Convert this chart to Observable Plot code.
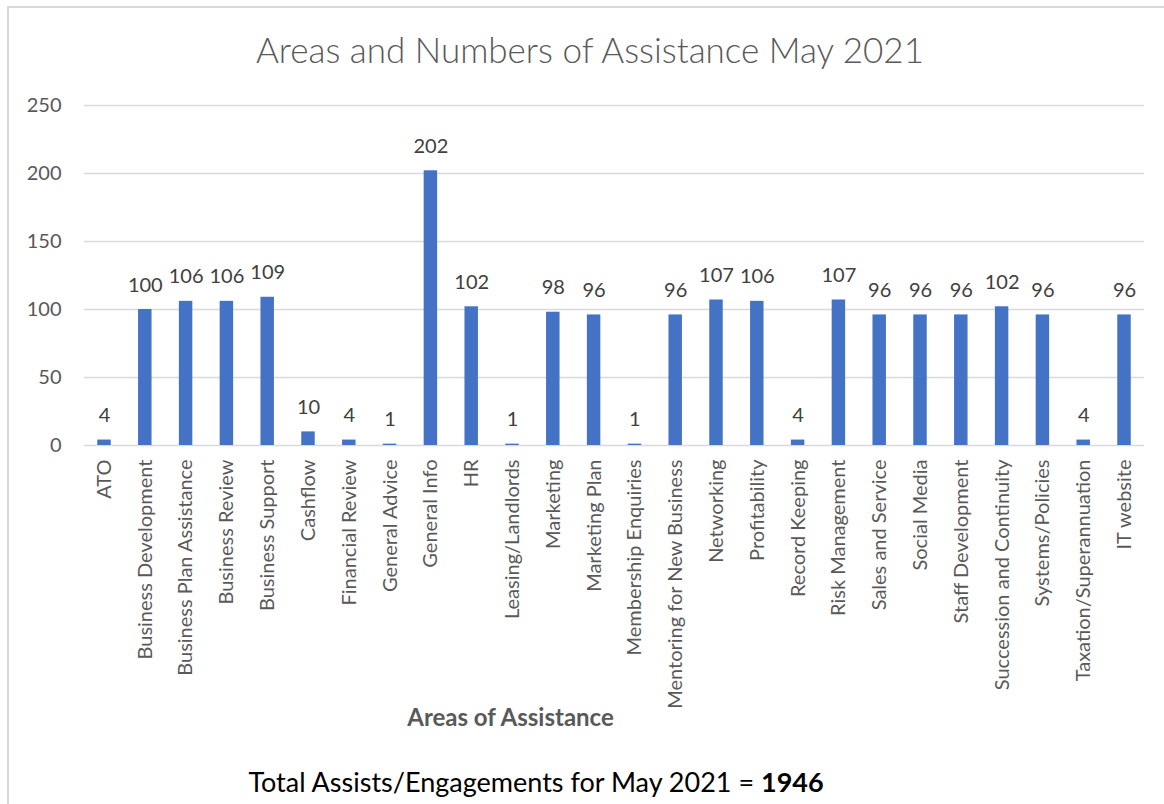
<!DOCTYPE html>
<html>
<head>
<meta charset="utf-8">
<script src="https://cdn.jsdelivr.net/npm/d3@7"></script>
<script src="https://cdn.jsdelivr.net/npm/@observablehq/plot@0.6"></script>
<style>
  html, body { margin: 0; padding: 0; background: #fff; }
  #wrap { position: relative; width: 1164px; height: 804px; overflow: hidden; background: #fff; font-family: Lato, "Open Sans", sans-serif; }
  #frame { position: absolute; left: 7px; top: 6px; width: 1200px; height: 900px; border-left: 2px solid #d9d9d9; border-top: 2px solid #d9d9d9; }
  #title { position: absolute; left: 0; top: 28px; width: 1180px; text-align: center; font-size: 35px; font-weight: 300; color: #595959; line-height: 1.2; white-space: nowrap; }
  #chart { position: absolute; left: 0; top: 80px; }
  #caption { position: absolute; left: 0; top: 766px; width: 1072px; text-align: center; font-size: 27px; color: #000; line-height: 1.2; white-space: nowrap; }
</style>
</head>
<body>
<div id="wrap">
  <div id="frame"></div>
  <div id="title">Areas and Numbers of Assistance May 2021</div>
  <div id="chart"></div>
  <div id="caption">Total Assists/Engagements for May 2021 = <b>1946</b></div>
</div>
<script>
const categories = [
  "ATO", "Business Development", "Business Plan Assistance", "Business Review",
  "Business Support", "Cashflow", "Financial Review", "General Advice",
  "General Info", "HR", "Leasing/Landlords", "Marketing", "Marketing Plan",
  "Membership Enquiries", "Mentoring for New Business", "Networking",
  "Profitability", "Record Keeping", "Risk Management", "Sales and Service",
  "Social Media", "Staff Development", "Succession and Continuity",
  "Systems/Policies", "Taxation/Superannuation", "IT website"
];
const values = [4, 100, 106, 106, 109, 10, 4, 1, 202, 102, 1, 98, 96, 1, 96, 107, 106, 4, 107, 96, 96, 96, 102, 96, 4, 96];
const yTicks = [0, 50, 100, 150, 200, 250];
const xTitle = "Areas of Assistance";

const data = categories.map((c, i) => ({category: c, value: values[i]}));

const chart = Plot.plot({
  width: 1164,
  height: 680,
  marginTop: 25,
  marginBottom: 315,
  marginLeft: 84,
  marginRight: 20,
  style: {fontFamily: "Lato, 'Open Sans', sans-serif", fontSize: "20px", color: "#595959", background: "transparent"},
  x: {domain: categories, paddingInner: 0.67, paddingOuter: 0.325, round: false},
  y: {domain: [0, 250]},
  marks: [
    Plot.ruleY(yTicks, {stroke: "#d9d9d9", strokeWidth: 1.3}),
    Plot.barY(data, {x: "category", y: "value", fill: "#4472C4"}),
    Plot.text(data, {x: "category", y: "value", text: d => String(d.value), lineAnchor: "bottom", dy: -18, fill: "#404040", fontSize: 20}),
    Plot.axisY({ticks: yTicks, tickSize: 0, tickPadding: 23, label: null, fontSize: 20}),
    Plot.axisX({tickRotate: -90, tickSize: 0, tickPadding: 14, label: null, fontSize: 20}),
    Plot.text([xTitle], {frameAnchor: "bottom", lineAnchor: "middle", dx: -104, dy: 273, fontWeight: "bold", fill: "#595959", fontSize: 24})
  ]
});
document.getElementById("chart").appendChild(chart);
</script>
</body>
</html>
